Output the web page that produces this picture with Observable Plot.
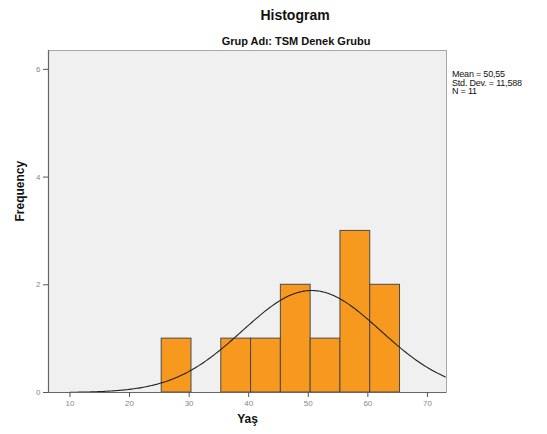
<!DOCTYPE html>
<html>
<head>
<meta charset="utf-8">
<script src="https://cdn.jsdelivr.net/npm/d3@7"></script>
<script src="https://cdn.jsdelivr.net/npm/@observablehq/plot@0.6"></script>
<style>
  body { margin: 0; background: #fff; font-family: "Liberation Sans", Arial, sans-serif; }
  #wrap { position: relative; width: 547px; height: 434px; }
  .t { position: absolute; font-weight: bold; color: #111; white-space: nowrap; transform: translateX(-50%); }
  #legend { position: absolute; left: 452px; top: 70px; font-size: 9px; line-height: 8.6px; color: #111; letter-spacing: -0.2px; }
</style>
</head>
<body>
<div id="wrap">
  <div class="t" style="left:295px; top:7px; font-size:14px;">Histogram</div>
  <div class="t" style="left:296px; top:35px; font-size:11px;">Grup Adı: TSM Denek Grubu</div>
  <div id="legend"></div>
</div>
<script>
// Bins (left edges, width 5) and their frequencies
const binStarts = [25.4, 35.4, 40.4, 45.4, 50.4, 55.4, 60.4];
const binWidth = 5;
const counts = [1, 1, 1, 2, 1, 3, 2];
// Summary statistics from the legend
const statMean = 50.55;
const statSd = 11.588;
const statN = 11;
const legendLines = ["Mean = 50,55", "Std. Dev. = 11,588", "N = 11"];
const xTicks = [10, 20, 30, 40, 50, 60, 70];
const yTicks = [0, 2, 4, 6];

const bars = binStarts.map((s, i) => ({x1: s, x2: s + binWidth, y: counts[i]}));

// Normal fit curve defined by the legend's mean, sd and N (scaled by bin width)
const curveXs = d3.range(10, 73.2, 0.25);
const curve = curveXs.map(x => ({
  x,
  y: statN * binWidth / (statSd * Math.sqrt(2 * Math.PI)) * Math.exp(-0.5 * ((x - statMean) / statSd) ** 2)
}));

const chart = Plot.plot({
  width: 547,
  height: 434,
  marginLeft: 48,
  marginRight: 101,
  marginTop: 50,
  marginBottom: 42,
  style: {fontFamily: "'Liberation Sans', Arial, sans-serif", background: "transparent"},
  x: {domain: [6.4, 73.2], ticks: xTicks, tickSize: 5, label: null},
  y: {domain: [0, 6.35], ticks: yTicks, tickSize: 5, label: null},
  marks: [
    Plot.frame({fill: "#f0f0f0", stroke: "#a8a8a8"}),
    Plot.rectY(bars, {x1: "x1", x2: "x2", y: "y", fill: "#f7991f", stroke: "#4a4a4a", strokeWidth: 1, inset: 0}),
    Plot.line(curve, {x: "x", y: "y", stroke: "#222", strokeWidth: 1.1}),
    Plot.ruleX([6.4], {stroke: "#666", strokeWidth: 1.2}),
    Plot.ruleY([0], {stroke: "#666", strokeWidth: 1.2}),
    Plot.axisX({ticks: xTicks, tickFormat: "d", tickSize: 5, stroke: "#555", fill: "#888", fontSize: 8, tickPadding: 3, label: null}),
    Plot.axisY({ticks: yTicks, tickFormat: "d", tickSize: 5, stroke: "#555", fill: "#888", fontSize: 8, tickPadding: 3, label: null}),
    Plot.text(["Yaş"], {frameAnchor: "bottom", dy: 30, fontWeight: "bold", fontSize: 12, fill: "#111"}),
    Plot.text(["Frequency"], {frameAnchor: "left", dx: -28, rotate: -90, fontWeight: "bold", fontSize: 12, fill: "#111"})
  ]
});
chart.style.position = "absolute";
chart.style.left = "0px";
chart.style.top = "0px";
document.getElementById("wrap").prepend(chart);
document.getElementById("legend").innerHTML = legendLines.join("<br>");
</script>
</body>
</html>
